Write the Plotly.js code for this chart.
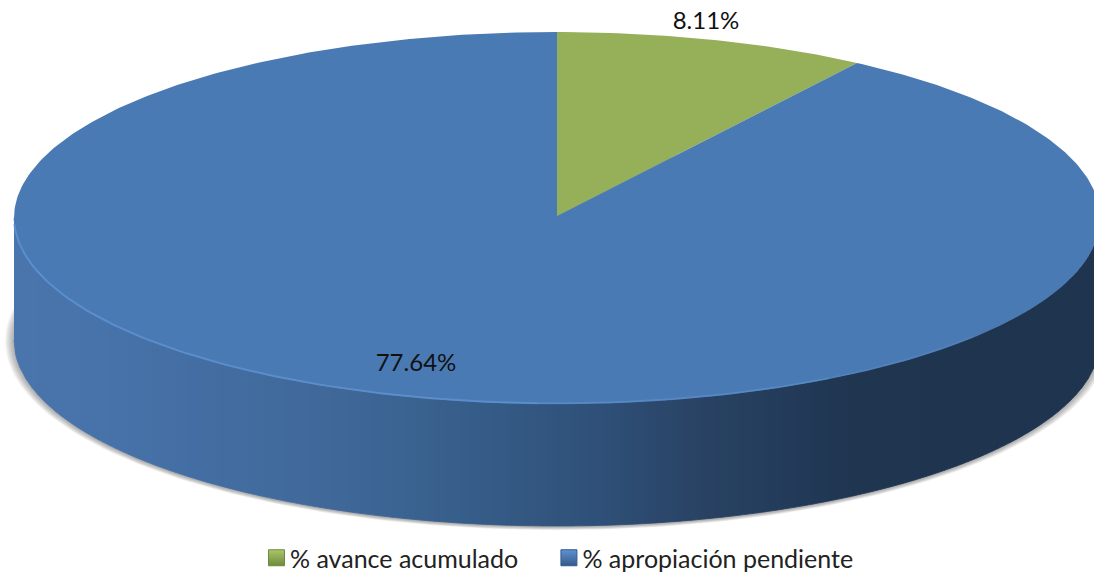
<!DOCTYPE html>
<html><head><meta charset="utf-8">
<script src="https://cdn.plot.ly/plotly-3.0.1.min.js"></script>
<style>html,body{margin:0;padding:0;background:#fff;overflow:hidden}#c{width:1094px;height:574px}</style>
</head><body><div id="c"></div>
<script>
const categories = ['% avance acumulado\u00a0\u00a0\u00a0', '% apropiación pendiente'];
const values = [8.11, 77.64];
const sliceColors = ['#95b058', '#4a7ab4'];
const legendColors = ['#a9c76a', '#5f93d2'];
const legendShade = ['#6f8a3c', '#34598a'];
const labelX = [706, 416];
const labelY = [23, 365];
const sideStops = [[14,[73,117,172]],[100,[71,115,170]],[300,[65,105,155]],[400,[60,100,146]],[500,[52,90,133]],[600,[47,80,120]],[700,[41,67,100]],[800,[34,58,88]],[860,[31,53,80]],[1100,[31,52,78]]];

const cx = 557, cy = 218, apexY = 216, rx = 543, ry = 186, depth = 122, perspective = 0.981;
function px(t){ return cx + rx*Math.sin(t); }
function py(t, off){ return cy + off - ry*Math.cos(t); }
function project(t){ let a=Math.atan2(Math.sin(t)*perspective,Math.cos(t)); return a<0?a+2*Math.PI:a; }
function sideColor(x){
  for(let i=1;i<sideStops.length;i++){
    if(x<=sideStops[i][0]){
      const a=sideStops[i-1], b=sideStops[i], f=(x-a[0])/(b[0]-a[0]);
      return 'rgb('+a[1].map((v,k)=>Math.round(v+(b[1][k]-v)*f)).join(',')+')';
    }
  }
  return 'rgb(31,52,78)';
}
const traces = [];
const base = {type:'scatter', mode:'lines', hoverinfo:'skip', showlegend:false};

// soft shadow under the body
for(let d=9;d>=1;d--){
  const xs=[],ys=[];
  for(let i=0;i<=240;i++){ const t=i/240*2*Math.PI;
    xs.push(cx+(rx+d)*Math.sin(t)); ys.push(cy+depth+1-(ry+0.35*d)*Math.cos(t)); }
  traces.push(Object.assign({},base,{x:xs,y:ys,fill:'toself',fillcolor:'rgba(60,60,60,0.05)',line:{width:0}}));
}
// side wall strips
const stripW = 6;
for(let x0=cx-rx; x0<cx+rx; x0+=stripW){
  const x1=Math.min(x0+stripW,cx+rx), xs=[],ys=[];
  const n=4;
  for(let i=0;i<=n;i++){ const x=x0+(x1-x0)*i/n, s=Math.sqrt(Math.max(0,1-Math.pow((x-cx)/rx,2)));
    xs.push(x); ys.push(cy+ry*s); }
  for(let i=n;i>=0;i--){ const x=x0+(x1-x0)*i/n, s=Math.sqrt(Math.max(0,1-Math.pow((x-cx)/rx,2)));
    xs.push(x); ys.push(cy+depth+ry*s); }
  const col=sideColor((x0+x1)/2);
  traces.push(Object.assign({},base,{x:xs,y:ys,fill:'toself',fillcolor:col,line:{width:0.8,color:col}}));
}
// top slices, driven by the values
const total = values.reduce((a,b)=>a+b,0);
let start = 0;
values.forEach((v,k)=>{
  const end = start + v/total*2*Math.PI;
  const a0 = project(start), a1 = k===values.length-1 ? 2*Math.PI : project(end);
  const xs=[cx], ys=[apexY], n=Math.max(8,Math.round((a1-a0)*80));
  for(let i=0;i<=n;i++){ const t=a0+(a1-a0)*i/n; xs.push(px(t)); ys.push(py(t,0)); }
  xs.push(cx); ys.push(apexY);
  traces.push(Object.assign({},base,{x:xs,y:ys,fill:'toself',fillcolor:sliceColors[k],line:{width:0}}));
  start = end;
});
// bright rim along the lower-left edge of the top
const rimSegs = [[130,150,0.25],[150,182,0.5],[182,268,0.7]];
rimSegs.forEach(s=>{
  const xs=[],ys=[];
  for(let a=s[0];a<=s[1];a+=1){ const t=a*Math.PI/180; xs.push(px(t)); ys.push(py(t,0)-0.7); }
  traces.push(Object.assign({},base,{x:xs,y:ys,line:{width:2,color:'rgba(95,150,215,'+s[2]+')'}}));
});
// data labels
traces.push({type:'scatter',mode:'text',x:labelX,y:labelY,text:values.map(v=>v.toFixed(2)+'%'),
  textposition:'middle center',textfont:{family:'Lato, "Noto Sans", sans-serif',size:24,color:'#111'},hoverinfo:'skip',showlegend:false});
// legend entries
categories.forEach((c,k)=>{
  traces.push({type:'scatter',mode:'markers',x:[null],y:[null],name:c,
    marker:{symbol:'square',size:16,color:legendColors[k],gradient:{type:'vertical',color:legendShade[k]},line:{width:1,color:legendShade[k]}}});
});
const layout = {
  width:1094,height:574,margin:{l:0,r:0,t:0,b:0,autoexpand:false},paper_bgcolor:'#fff',plot_bgcolor:'#fff',
  xaxis:{range:[0,1094],visible:false,fixedrange:true},
  yaxis:{range:[574,0],visible:false,fixedrange:true},
  showlegend:true,
  legend:{orientation:'h',x:250/1094,xanchor:'left',y:16/574,yanchor:'middle',font:{family:'Lato, "Noto Sans", sans-serif',size:25,color:'#222'},bgcolor:'rgba(0,0,0,0)',itemclick:false,itemdoubleclick:false}
};
Plotly.newPlot('c',traces,layout,{displayModeBar:false,staticPlot:true}).then(()=>{
  document.querySelectorAll('.legendsymbols').forEach(g=>g.setAttribute('transform','translate(6.5,0)'));
});
</script></body></html>
